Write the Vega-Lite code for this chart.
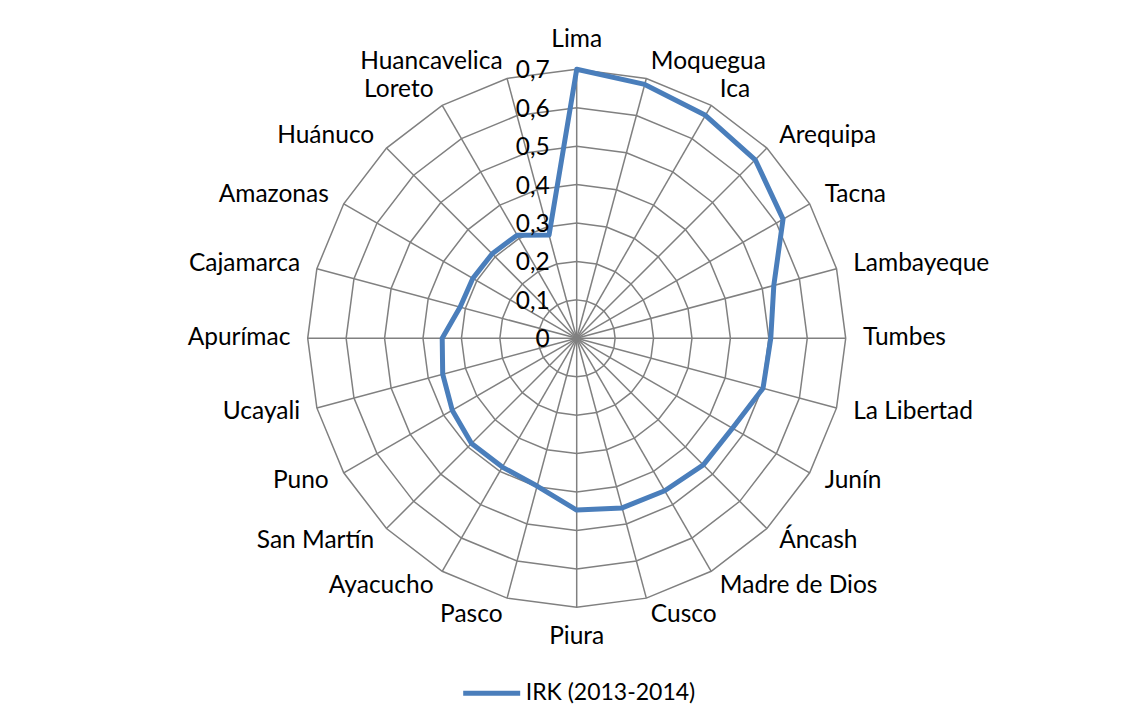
{
  "$schema": "https://vega.github.io/schema/vega-lite/v6.json",
  "width": 538,
  "height": 538,
  "autosize": "none",
  "padding": {"left": 307.7, "top": 69.3, "right": 288.3, "bottom": 116.7},
  "background": "white",
  "config": {"view": {"stroke": null}, "font": "Lato", "text": {"font": "Lato", "fontSize": 24.5, "color": "#000000"}},
  "datasets": {
    "irk": [
      {"region": "Lima", "irk": 0.700},
      {"region": "Moquegua", "irk": 0.684},
      {"region": "Ica", "irk": 0.670},
      {"region": "Arequipa", "irk": 0.657},
      {"region": "Tacna", "irk": 0.620},
      {"region": "Lambayeque", "irk": 0.531},
      {"region": "Tumbes", "irk": 0.505},
      {"region": "La Libertad", "irk": 0.502},
      {"region": "Junín", "irk": 0.468},
      {"region": "Áncash", "irk": 0.466},
      {"region": "Madre de Dios", "irk": 0.458},
      {"region": "Cusco", "irk": 0.457},
      {"region": "Piura", "irk": 0.447},
      {"region": "Pasco", "irk": 0.398},
      {"region": "Ayacucho", "irk": 0.387},
      {"region": "San Martín", "irk": 0.387},
      {"region": "Puno", "irk": 0.374},
      {"region": "Ucayali", "irk": 0.361},
      {"region": "Apurímac", "irk": 0.350},
      {"region": "Cajamarca", "irk": 0.314},
      {"region": "Amazonas", "irk": 0.312},
      {"region": "Huánuco", "irk": 0.311},
      {"region": "Loreto", "irk": 0.310},
      {"region": "Huancavelica", "irk": 0.278}
    ],
    "ticks": [
      {"v": 0, "label": "0"},
      {"v": 0.1, "label": "0,1"},
      {"v": 0.2, "label": "0,2"},
      {"v": 0.3, "label": "0,3"},
      {"v": 0.4, "label": "0,4"},
      {"v": 0.5, "label": "0,5"},
      {"v": 0.6, "label": "0,6"},
      {"v": 0.7, "label": "0,7"}
    ]
  },
  "layer": [
    {
      "data": {"name": "irk"},
      "transform": [
        {"window": [{"op": "row_number", "as": "idx"}]},
        {"calculate": "(datum.idx-1)*PI/12", "as": "a"},
        {"calculate": "[0.1,0.2,0.3,0.4,0.5,0.6,0.7]", "as": "lv"},
        {"flatten": ["lv"]},
        {"calculate": "datum.lv*sin(datum.a)", "as": "gx"},
        {"calculate": "datum.lv*cos(datum.a)", "as": "gy"}
      ],
      "mark": {"type": "line", "interpolate": "linear-closed", "color": "#808080", "strokeWidth": 1.5},
      "encoding": {
        "x": {"field": "gx", "type": "quantitative", "scale": {"domain": [-0.7, 0.7], "nice": false, "zero": false}, "axis": null},
        "y": {"field": "gy", "type": "quantitative", "scale": {"domain": [-0.7, 0.7], "nice": false, "zero": false}, "axis": null},
        "detail": {"field": "lv", "type": "nominal"},
        "order": {"field": "idx", "type": "quantitative"}
      }
    },
    {
      "data": {"name": "irk"},
      "transform": [
        {"window": [{"op": "row_number", "as": "idx"}]},
        {"calculate": "(datum.idx-1)*PI/12", "as": "a"},
        {"calculate": "0", "as": "cx"},
        {"calculate": "0.7*sin(datum.a)", "as": "ox"},
        {"calculate": "0.7*cos(datum.a)", "as": "oy"}
      ],
      "mark": {"type": "rule", "color": "#808080", "strokeWidth": 1.5},
      "encoding": {
        "x": {"field": "cx", "type": "quantitative"},
        "y": {"field": "cx", "type": "quantitative"},
        "x2": {"field": "ox"},
        "y2": {"field": "oy"}
      }
    },
    {
      "data": {"name": "irk"},
      "transform": [
        {"window": [{"op": "row_number", "as": "idx"}]},
        {"calculate": "(datum.idx-1)*PI/12", "as": "a"},
        {"calculate": "datum.irk*sin(datum.a)", "as": "px"},
        {"calculate": "datum.irk*cos(datum.a)", "as": "py"},
        {"calculate": "'IRK (2013-2014)'", "as": "serie"}
      ],
      "mark": {"type": "line", "interpolate": "linear-closed", "strokeWidth": 5, "strokeJoin": "round"},
      "encoding": {
        "x": {"field": "px", "type": "quantitative"},
        "y": {"field": "py", "type": "quantitative"},
        "order": {"field": "idx", "type": "quantitative"},
        "color": {
          "field": "serie",
          "type": "nominal",
          "scale": {"range": ["#4A7EBB"]},
          "legend": {
            "title": null,
            "orient": "none",
            "legendX": 153,
            "legendY": 593,
            "padding": 0,
            "symbolType": "stroke",
            "symbolSize": 3249,
            "symbolStrokeWidth": 5,
            "labelFont": "Lato",
            "labelFontSize": 23,
            "labelColor": "#000000",
            "labelOffset": 3,
            "labelLimit": 400
          }
        }
      }
    },
    {
      "data": {"name": "irk"},
      "transform": [
        {"window": [{"op": "row_number", "as": "idx"}]},
        {"filter": "datum.idx > 1 && datum.idx < 13"},
        {"calculate": "(datum.idx-1)*PI/12", "as": "a"},
        {"calculate": "0.745*sin(datum.a)", "as": "lx"},
        {"calculate": "0.745*cos(datum.a)", "as": "ly"}
      ],
      "mark": {"type": "text", "align": "left", "baseline": "middle"},
      "encoding": {
        "x": {"field": "lx", "type": "quantitative"},
        "y": {"field": "ly", "type": "quantitative"},
        "text": {"field": "region", "type": "nominal"}
      }
    },
    {
      "data": {"name": "irk"},
      "transform": [
        {"window": [{"op": "row_number", "as": "idx"}]},
        {"filter": "datum.idx > 13"},
        {"calculate": "(datum.idx-1)*PI/12", "as": "a"},
        {"calculate": "0.745*sin(datum.a)", "as": "lx"},
        {"calculate": "0.745*cos(datum.a)", "as": "ly"}
      ],
      "mark": {"type": "text", "align": "right", "baseline": "middle"},
      "encoding": {
        "x": {"field": "lx", "type": "quantitative"},
        "y": {"field": "ly", "type": "quantitative"},
        "text": {"field": "region", "type": "nominal"}
      }
    },
    {
      "data": {"name": "irk"},
      "transform": [
        {"window": [{"op": "row_number", "as": "idx"}]},
        {"filter": "datum.idx == 1"},
        {"calculate": "0", "as": "lx"},
        {"calculate": "0.758", "as": "ly"}
      ],
      "mark": {"type": "text", "align": "center", "baseline": "alphabetic"},
      "encoding": {
        "x": {"field": "lx", "type": "quantitative"},
        "y": {"field": "ly", "type": "quantitative"},
        "text": {"field": "region", "type": "nominal"}
      }
    },
    {
      "data": {"name": "irk"},
      "transform": [
        {"window": [{"op": "row_number", "as": "idx"}]},
        {"filter": "datum.idx == 13"},
        {"calculate": "0", "as": "lx"},
        {"calculate": "-0.745", "as": "ly"}
      ],
      "mark": {"type": "text", "align": "center", "baseline": "top"},
      "encoding": {
        "x": {"field": "lx", "type": "quantitative"},
        "y": {"field": "ly", "type": "quantitative"},
        "text": {"field": "region", "type": "nominal"}
      }
    },
    {
      "data": {"name": "ticks"},
      "transform": [
        {"calculate": "-0.07", "as": "tx"}
      ],
      "mark": {"type": "text", "align": "right", "baseline": "middle", "dy": 2},
      "encoding": {
        "x": {"field": "tx", "type": "quantitative"},
        "y": {"field": "v", "type": "quantitative"},
        "text": {"field": "label", "type": "nominal"}
      }
    }
  ]
}
